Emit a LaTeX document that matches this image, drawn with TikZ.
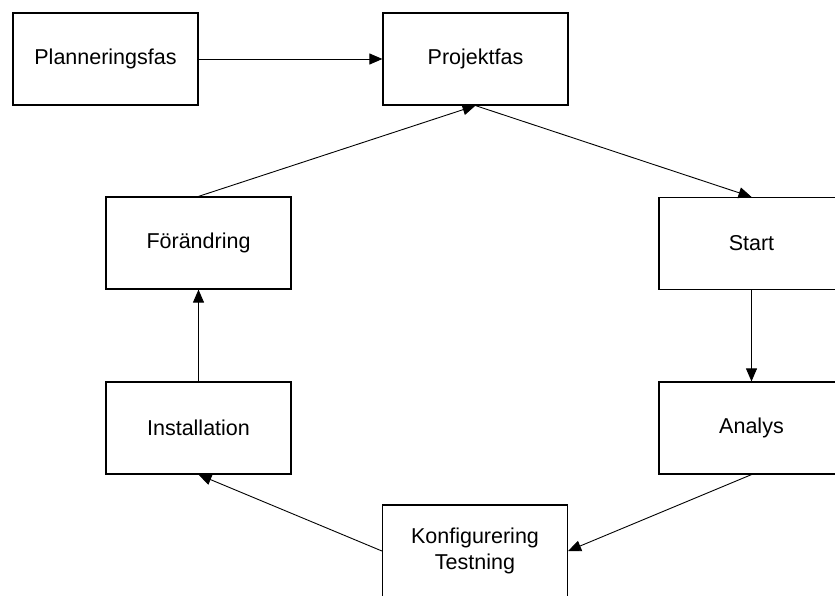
\documentclass[tikz,border=0pt]{standalone}
\usepackage{fontspec}
\setmainfont{Liberation Sans}
\usetikzlibrary{arrows.meta}
\begin{document}
\begin{tikzpicture}[x=1pt,y=-1pt,
  box/.style={draw=black,line width=1.2pt,fill=white,minimum width=185pt,minimum height=92pt,inner sep=0pt,
    align=center,font=\fontsize{21.5pt}{26pt}\selectfont},
  conn/.style={draw=black,line width=0.9pt,-{Triangle[length=13pt,width=11pt]}}]
\useasboundingbox (0,0) rectangle (835,596);
\clip (0,0) rectangle (835,596);
\node[box] (plan) at (105.5,59) {Planneringsfas};
\node[box] (proj) at (475.5,59) {Projektfas};
\node[box] (fora) at (198.5,243) {Förändring};
\node[box] (start) at (751.5,243.5) {Start};
\node[box] (inst) at (198.5,428) {Installation};
\node[box] (anal) at (751.5,428) {Analys};
\node[box] (konf) at (475,551) {Konfigurering\\Testning};
\draw[conn] (plan.east) -- (proj.west);
\draw[conn] (proj.south) -- (start.north);
\draw[conn] (start.south) -- (anal.north);
\draw[conn] (anal.south) -- (konf.east);
\draw[conn] (konf.west) -- (inst.south);
\draw[conn] (inst.north) -- (fora.south);
\draw[conn] (fora.north) -- (proj.south);
\end{tikzpicture}
\end{document}
